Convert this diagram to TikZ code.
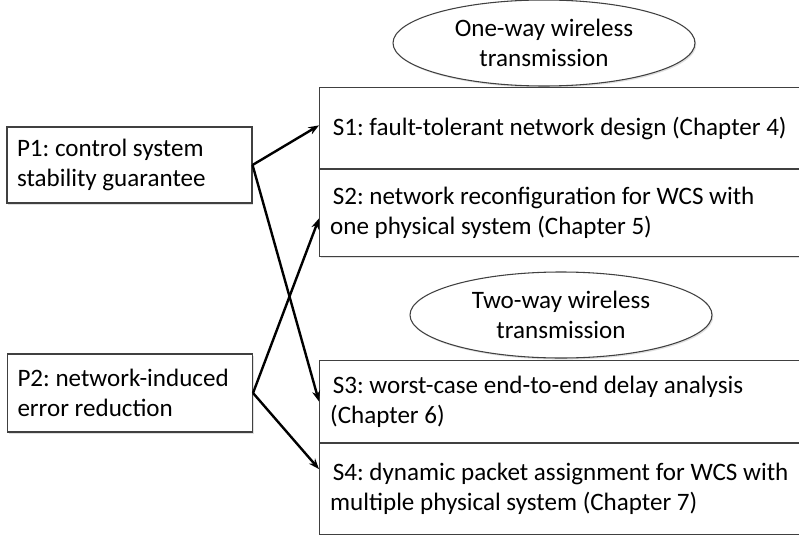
\documentclass[tikz,border=0pt]{standalone}
\usepackage{fontspec}
\setmainfont{Carlito}
\usetikzlibrary{arrows.meta,shapes.geometric,shadows}
\frenchspacing

\begin{document}
\begin{tikzpicture}[
    x=0.75pt, y=-0.75pt,
    font=\fontsize{18.8}{22.5}\selectfont,
    execute at begin node={\spaceskip=0pt \xspaceskip=0pt},
    arr/.style={line width=1.8pt, -{Stealth[length=8pt,width=6pt]}},
    shade/.style={drop shadow={opacity=0.25, shadow xshift=1pt, shadow yshift=-1.2pt}},
    pbox/.style={
        rectangle,
        draw=black!75,
        line width=0.8pt,
        fill=white,
        shade,
        inner xsep=7.5pt,
        text width=168.75pt,
        align=left,
      },
    sbox/.style={
        rectangle,
        draw=black!75,
        line width=0.8pt,
        fill=white,
        shade,
        inner xsep=8pt,
        text width=351.5pt,
        align=left,
        anchor=north west,
      },
    tag/.style={
        ellipse,
        draw=black!75,
        line width=0.8pt,
        fill=white,
        shade,
        minimum width=226.5pt,
        minimum height=64.5pt,
        align=center,
        inner sep=0pt,
      },
  ]
  \clip (0,0) rectangle (799,535);

  % problems
  \node[pbox, minimum height=57pt] (P1) at (129.5,165) {P1: control system\\stability guarantee};
  \node[pbox, minimum height=58.5pt] (P2) at (130,393) {P2: network-induced\\error reduction};

  % one-way group
  \node[tag] (one) at (544,43) {One-way wireless\\transmission};
  \node[sbox, minimum height=60.75pt] (S1) at (319,87) {\hspace*{2pt}S1: fault-tolerant network design (Chapter 4)};
  \node[sbox, minimum height=65.25pt] (S2) at (S1.south west) {\hspace*{2pt}S2: network reconfiguration for WCS with\\one physical system (Chapter 5)};

  % two-way group
  \node[tag] (two) at (561,315) {Two-way wireless\\transmission};
  \node[sbox, minimum height=61.5pt] (S3) at (319,360) {\hspace*{2pt}S3: worst-case end-to-end delay analysis\\(Chapter 6)};
  \node[sbox, minimum height=68.25pt] (S4) at (S3.south west) {\hspace*{2pt}S4: dynamic packet assignment for WCS with\\multiple physical system (Chapter 7)};

  \draw[arr] (P1.east) -- ([yshift=2pt]S1.west);
  \draw[arr] (P1.east) -- (S3.west);
  \draw[arr] (P2.east) -- ([yshift=-4pt]S2.west);
  \draw[arr] (P2.east) -- ([yshift=15pt]S4.west);
\end{tikzpicture}
\end{document}
